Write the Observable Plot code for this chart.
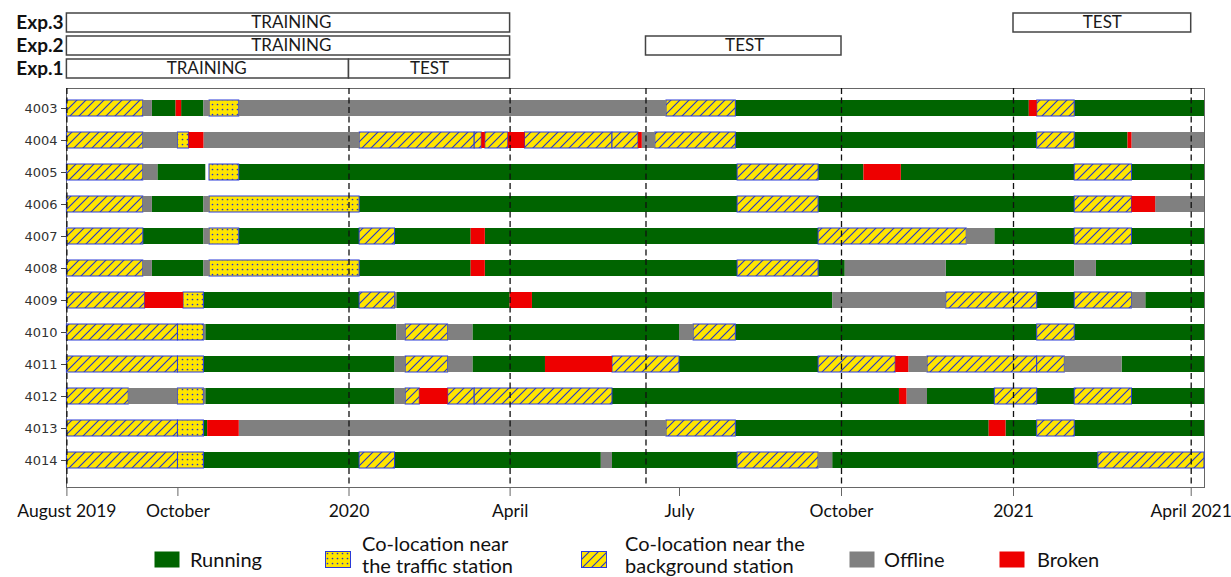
<!DOCTYPE html>
<html>
<head>
<meta charset="utf-8">
<script src="https://cdn.jsdelivr.net/npm/d3@7"></script>
<script src="https://cdn.jsdelivr.net/npm/@observablehq/plot@0.6"></script>
<style>
  body { margin: 0; background: #fff; }
  #wrap { position: relative; width: 1231px; height: 577px; overflow: hidden; font-family: Lato, sans-serif; color: #111; }
  #exp { position: absolute; left: 0; top: 0; }
  #status { position: absolute; left: 0; top: 87px; }
  .lg-swatch { position: absolute; top: 551px; }
  .lg-text { position: absolute; font: 20px Lato, sans-serif; line-height: 22px; white-space: pre; color: #111; }
</style>
</head>
<body>
<svg width="0" height="0" style="position:absolute">
  <defs>
    <pattern id="hatch" patternUnits="userSpaceOnUse" width="9" height="9">
      <rect width="9" height="9" fill="#ffe500"></rect>
      <path d="M-2,2 L2,-2 M0,9 L9,0 M7,11 L11,7" stroke="#2233cc" stroke-width="1.1"></path>
    </pattern>
    <pattern id="dots" patternUnits="userSpaceOnUse" width="5" height="5">
      <rect width="5" height="5" fill="#ffe500"></rect>
      <circle cx="2.5" cy="2.5" r="0.85" fill="#2233cc"></circle>
    </pattern>
  </defs>
</svg>
<div id="wrap">
  <div id="exp"></div>
  <div id="status"></div>
  <div id="legend"></div>
</div>
<script>
// ---- sensors (rows, top to bottom)
const sensors = ["4003","4004","4005","4006","4007","4008","4009","4010","4011","4012","4013","4014"];

// ---- status codes: R running, T co-location (traffic), B co-location (background), O offline, X broken
const statusKeys = ["R", "T", "B", "O", "X"];
const statusLabels = ["Running", "Co-location near\nthe traffic station", "Co-location near the\nbackground station", "Offline", "Broken"];

// ---- per-sensor timelines: [status, start, end]
const s4003 = [["B","2019-08-01","2019-09-12"],["O","2019-09-12","2019-09-17"],["R","2019-09-17","2019-09-30"],["X","2019-09-30","2019-10-03"],["R","2019-10-03","2019-10-15"],["O","2019-10-15","2019-10-18"],["T","2019-10-18","2019-11-03"],["O","2019-11-03","2020-06-24"],["B","2020-06-24","2020-08-02"],["R","2020-08-02","2021-01-09"],["X","2021-01-09","2021-01-13"],["B","2021-01-13","2021-02-01"],["R","2021-02-01","2021-04-08"]];
const s4004 = [["B","2019-08-01","2019-09-12"],["O","2019-09-12","2019-10-01"],["T","2019-10-01","2019-10-07"],["X","2019-10-07","2019-10-15"],["O","2019-10-15","2020-01-07"],["B","2020-01-07","2020-03-12"],["B","2020-03-12","2020-03-16"],["X","2020-03-16","2020-03-18"],["B","2020-03-18","2020-03-31"],["X","2020-03-31","2020-04-09"],["B","2020-04-09","2020-05-26"],["B","2020-05-26","2020-06-09"],["X","2020-06-09","2020-06-11"],["O","2020-06-11","2020-06-18"],["B","2020-06-18","2020-08-02"],["R","2020-08-02","2021-01-13"],["B","2021-01-13","2021-02-01"],["R","2021-02-01","2021-02-28"],["X","2021-02-28","2021-03-02"],["O","2021-03-02","2021-04-08"]];
const s4005 = [["B","2019-08-01","2019-09-12"],["O","2019-09-12","2019-09-20"],["R","2019-09-20","2019-10-16"],["T","2019-10-18","2019-11-03"],["R","2019-11-03","2020-08-03"],["B","2020-08-03","2020-09-18"],["R","2020-09-18","2020-10-13"],["X","2020-10-13","2020-11-02"],["R","2020-11-02","2021-02-01"],["B","2021-02-01","2021-03-02"],["R","2021-03-02","2021-04-08"]];
const s4006 = [["B","2019-08-01","2019-09-12"],["O","2019-09-12","2019-09-17"],["R","2019-09-17","2019-10-15"],["O","2019-10-15","2019-10-18"],["T","2019-10-18","2020-01-07"],["R","2020-01-07","2020-08-03"],["B","2020-08-03","2020-09-18"],["R","2020-09-18","2021-02-01"],["B","2021-02-01","2021-03-02"],["X","2021-03-02","2021-03-14"],["O","2021-03-14","2021-04-08"]];
const s4007 = [["B","2019-08-01","2019-09-12"],["R","2019-09-12","2019-10-15"],["O","2019-10-15","2019-10-18"],["T","2019-10-18","2019-11-03"],["R","2019-11-03","2020-01-07"],["B","2020-01-07","2020-01-27"],["R","2020-01-27","2020-03-10"],["X","2020-03-10","2020-03-18"],["R","2020-03-18","2020-09-18"],["B","2020-09-18","2020-12-07"],["O","2020-12-07","2020-12-22"],["R","2020-12-22","2021-02-01"],["B","2021-02-01","2021-03-02"],["R","2021-03-02","2021-04-08"]];
const s4008 = [["B","2019-08-01","2019-09-12"],["O","2019-09-12","2019-09-17"],["R","2019-09-17","2019-10-15"],["O","2019-10-15","2019-10-18"],["T","2019-10-18","2020-01-07"],["R","2020-01-07","2020-03-10"],["X","2020-03-10","2020-03-18"],["R","2020-03-18","2020-08-03"],["B","2020-08-03","2020-09-18"],["R","2020-09-18","2020-10-03"],["O","2020-10-03","2020-11-26"],["R","2020-11-26","2021-02-01"],["O","2021-02-01","2021-02-12"],["R","2021-02-12","2021-04-08"]];
const s4009 = [["B","2019-08-01","2019-09-13"],["X","2019-09-13","2019-10-04"],["T","2019-10-04","2019-10-15"],["R","2019-10-15","2020-01-07"],["B","2020-01-07","2020-01-27"],["O","2020-01-27","2020-01-28"],["R","2020-01-28","2020-04-01"],["X","2020-04-01","2020-04-13"],["R","2020-04-13","2020-09-26"],["O","2020-09-26","2020-11-26"],["B","2020-11-26","2021-01-13"],["R","2021-01-13","2021-02-01"],["B","2021-02-01","2021-03-02"],["O","2021-03-02","2021-03-09"],["R","2021-03-09","2021-04-08"]];
const s4010 = [["B","2019-08-01","2019-10-01"],["T","2019-10-01","2019-10-15"],["O","2019-10-15","2019-10-16"],["R","2019-10-16","2020-01-28"],["O","2020-01-28","2020-02-02"],["B","2020-02-02","2020-02-26"],["O","2020-02-26","2020-03-11"],["R","2020-03-11","2020-07-01"],["O","2020-07-01","2020-07-09"],["B","2020-07-09","2020-08-02"],["R","2020-08-02","2021-01-13"],["B","2021-01-13","2021-02-01"],["R","2021-02-01","2021-04-08"]];
const s4011 = [["B","2019-08-01","2019-10-01"],["T","2019-10-01","2019-10-15"],["R","2019-10-15","2020-01-27"],["O","2020-01-27","2020-02-02"],["B","2020-02-02","2020-02-26"],["O","2020-02-26","2020-03-11"],["R","2020-03-11","2020-04-20"],["X","2020-04-20","2020-05-26"],["B","2020-05-26","2020-07-01"],["R","2020-07-01","2020-09-18"],["B","2020-09-18","2020-10-30"],["X","2020-10-30","2020-11-06"],["O","2020-11-06","2020-11-16"],["B","2020-11-16","2021-01-13"],["B","2021-01-13","2021-01-27"],["O","2021-01-27","2021-02-25"],["R","2021-02-25","2021-04-08"]];
const s4012 = [["B","2019-08-01","2019-09-04"],["O","2019-09-04","2019-10-01"],["T","2019-10-01","2019-10-15"],["O","2019-10-15","2019-10-16"],["R","2019-10-16","2020-01-27"],["O","2020-01-27","2020-02-02"],["B","2020-02-02","2020-02-10"],["X","2020-02-10","2020-02-26"],["B","2020-02-26","2020-03-12"],["B","2020-03-12","2020-05-26"],["R","2020-05-26","2020-11-01"],["X","2020-11-01","2020-11-05"],["O","2020-11-05","2020-11-16"],["R","2020-11-16","2020-12-22"],["B","2020-12-22","2021-01-13"],["R","2021-01-13","2021-02-01"],["B","2021-02-01","2021-03-02"],["R","2021-03-02","2021-04-08"]];
const s4013 = [["B","2019-08-01","2019-10-01"],["T","2019-10-01","2019-10-15"],["R","2019-10-15","2019-10-17"],["X","2019-10-17","2019-11-03"],["O","2019-11-03","2020-06-24"],["B","2020-06-24","2020-08-02"],["R","2020-08-02","2020-12-19"],["X","2020-12-19","2020-12-28"],["R","2020-12-28","2021-01-13"],["B","2021-01-13","2021-02-01"],["R","2021-02-01","2021-04-08"]];
const s4014 = [["B","2019-08-01","2019-10-01"],["T","2019-10-01","2019-10-15"],["R","2019-10-15","2020-01-07"],["B","2020-01-07","2020-01-27"],["R","2020-01-27","2020-05-20"],["O","2020-05-20","2020-05-26"],["R","2020-05-26","2020-08-03"],["B","2020-08-03","2020-09-18"],["O","2020-09-18","2020-09-26"],["R","2020-09-26","2021-02-13"],["B","2021-02-13","2021-04-08"]];
const timelines = [s4003, s4004, s4005, s4006, s4007, s4008, s4009, s4010, s4011, s4012, s4013, s4014];

// ---- experiment phases: [experiment, phase, start, end]
const expNames = ["Exp.3", "Exp.2", "Exp.1"];
const phases = [
  ["Exp.3", "TRAINING", "2019-08-01", "2020-04-01"],
  ["Exp.3", "TEST",     "2021-01-01", "2021-04-01"],
  ["Exp.2", "TRAINING", "2019-08-01", "2020-04-01"],
  ["Exp.2", "TEST",     "2020-06-13", "2020-10-01"],
  ["Exp.1", "TRAINING", "2019-08-01", "2020-01-01"],
  ["Exp.1", "TEST",     "2020-01-01", "2020-04-01"]
];

// ---- time axis ticks
const tickDates = ["2019-08-01","2019-10-01","2020-01-01","2020-04-01","2020-07-01","2020-10-01","2021-01-01","2021-04-01"];
const tickLabels = ["August 2019","October","2020","April","July","October","2021","April 2021"];

// ---- styles
const statusFill = {R: "#006400", T: "url(#dots)", B: "url(#hatch)", O: "#808080", X: "#ee0000"};
const statusStroke = {R: "none", T: "#2a3ad8", B: "#2a3ad8", O: "none", X: "none"};
const DASH = "6,3.5";

// ---- shared time scale (piecewise through the labelled months)
const toDate = (s) => new Date(s + "T00:00:00Z");
const xDomain = [...tickDates, "2021-04-08"].map(toDate);
const xRange = [66.4, 177.4, 348.5, 509.6, 679, 841, 1013, 1190.7, 1204];
const xScale = {type: "utc", domain: xDomain, range: xRange, label: null};

// ---- derived tables
const segments = timelines.flatMap((rows, i) =>
  rows.map(([status, start, end]) => ({sensor: sensors[i], status, start: toDate(start), end: toDate(end)})));
const phaseRows = phases.map(([exp, phase, start, end]) => ({exp, phase, start: toDate(start), end: toDate(end)}));

// each phase boundary gets a dashed guide, starting below the lowest box that uses it
const guideMap = new Map();
for (const p of phaseRows) {
  for (const d of [p.start, p.end]) {
    const k = +d;
    const prev = guideMap.get(k);
    if (!prev || expNames.indexOf(p.exp) > expNames.indexOf(prev.exp)) guideMap.set(k, {date: d, exp: p.exp});
  }
}
const guides = [...guideMap.values()];

const tickLabelByTime = new Map(tickDates.map((d, i) => [+toDate(d), tickLabels[i]]));

// ---- experiment strip
const expPlot = Plot.plot({
  width: 1231,
  height: 88,
  marginTop: 0,
  marginBottom: 0,
  marginLeft: 66,
  marginRight: 27,
  style: {fontFamily: "Lato, sans-serif", color: "#111", background: "transparent", overflow: "visible"},
  x: {...xScale, axis: null},
  y: {domain: expNames, range: [11.5, 80.5], paddingInner: 0.157, paddingOuter: 0.0785},
  marks: [
    Plot.ruleX(guides, {x: "date", y1: "exp", stroke: "#111", strokeWidth: 1.3, strokeDasharray: DASH}),
    Plot.barX(phaseRows, {x1: "start", x2: "end", y: "exp", fill: "white", stroke: "#444", strokeWidth: 1.5}),
    Plot.text(phaseRows, {x: (d) => new Date((+d.start + +d.end) / 2), y: "exp", text: "phase", fontSize: 17, fill: "#1a1a1a"}),
    Plot.axisY({tickSize: 0, tickPadding: 3, fontSize: 19, fontWeight: "bold", fill: "#111", label: null})
  ]
});
document.getElementById("exp").appendChild(expPlot);

// ---- sensor status timeline
const statusPlot = Plot.plot({
  width: 1231,
  height: 446,
  marginTop: 1,
  marginBottom: 46,
  marginLeft: 66,
  marginRight: 27,
  style: {fontFamily: "Lato, sans-serif", color: "#222", background: "transparent", overflow: "visible"},
  x: xScale,
  y: {domain: sensors, range: [4.2, 390.0], paddingInner: 0.49, paddingOuter: 0.245, label: null},
  marks: [
    Plot.frame({stroke: "#666"}),
    ...statusKeys.map((k) =>
      Plot.barX(segments.filter((d) => d.status === k), {
        x1: "start", x2: "end", y: "sensor",
        fill: statusFill[k], stroke: statusStroke[k], strokeWidth: 1
      })),
    Plot.ruleX(guides, {x: "date", stroke: "#111", strokeWidth: 1.3, strokeDasharray: DASH}),
    Plot.axisY({tickSize: 5, tickPadding: 4, fontSize: 13, fontFamily: "DejaVu Sans, sans-serif", fill: "#333", stroke: "#444", label: null}),
    Plot.axisX({
      ticks: tickDates.map(toDate),
      tickFormat: (d) => tickLabelByTime.get(+d),
      tickSize: 9, tickPadding: 8, fontSize: 17.5, fill: "#111", stroke: "#666", label: null
    })
  ]
});
document.getElementById("status").appendChild(statusPlot);

// ---- legend
const legendSwatchX = [154, 325, 581, 849, 999];
const legendTextX = [190, 362, 625, 884, 1037];
const legend = document.getElementById("legend");
statusKeys.forEach((k, i) => {
  const sw = document.createElementNS("http://www.w3.org/2000/svg", "svg");
  sw.setAttribute("width", 26);
  sw.setAttribute("height", 17);
  sw.setAttribute("class", "lg-swatch");
  sw.style.left = legendSwatchX[i] + "px";
  const r = document.createElementNS("http://www.w3.org/2000/svg", "rect");
  r.setAttribute("x", 0.5); r.setAttribute("y", 0.5);
  r.setAttribute("width", 25); r.setAttribute("height", 16);
  r.setAttribute("fill", statusFill[k]);
  r.setAttribute("stroke", statusStroke[k]);
  sw.appendChild(r);
  legend.appendChild(sw);
  const t = document.createElement("div");
  t.className = "lg-text";
  t.textContent = statusLabels[i];
  t.style.left = legendTextX[i] + "px";
  t.style.top = (statusLabels[i].includes("\n") ? 532 : 548) + "px";
  legend.appendChild(t);
});
</script>
</body>
</html>
